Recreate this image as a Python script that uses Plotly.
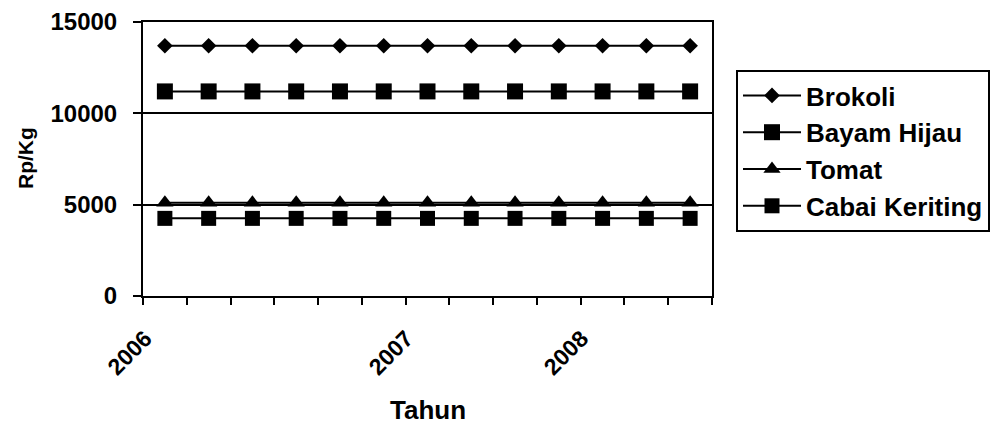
import plotly.graph_objects as go

categories = list(range(13))
tick_positions = [-0.45, 5.52, 9.52]
tick_labels = ["2006", "2007", "2008"]
y_ticks = [0, 5000, 10000, 15000]
y_tick_labels = ["0", "5000", "10000", "15000"]

brokoli = [13700] * 13
bayam_hijau = [11200] * 13
tomat = [5100] * 13
cabai_keriting = [4250] * 13

series = [
    ("Brokoli", brokoli, "diamond", 12),
    ("Bayam Hijau", bayam_hijau, "square", 16),
    ("Tomat", tomat, "triangle-up", 15),
    ("Cabai Keriting", cabai_keriting, "square", 15),
]

FONT = "Liberation Sans, Arial, sans-serif"

# page has an 8px body margin; plot area target: x 143..712, y 22..296
PW, PH = 992, 420
L, R, T, B = 135, 288, 14, 132
plot_w = PW - L - R
plot_h = PH - T - B


def px_x(X):
    return (X - 143) / plot_w


def px_y(Y):
    return (296 - Y) / plot_h


fig = go.Figure()
for name, vals, sym, size in series:
    fig.add_trace(go.Scatter(
        x=categories, y=vals, name=name, mode="lines+markers",
        line=dict(color="black", width=2),
        marker=dict(symbol=sym, size=size, color="black"),
    ))

fig.update_layout(
    width=PW, height=PH,
    margin=dict(l=L, r=R, t=T, b=B, autoexpand=False),
    plot_bgcolor="white", paper_bgcolor="white",
    font=dict(family=FONT, color="black"),
    legend=dict(
        x=px_x(736), y=px_y(70), xanchor="left", yanchor="top",
        bordercolor="black", borderwidth=2,
        font=dict(family=FONT, size=26, weight="bold", color="black"),
        itemwidth=58,
    ),
    showlegend=True,
)

fig.update_xaxes(
    range=[-0.5, 12.5], automargin=False,
    tickmode="array", tickvals=tick_positions, ticktext=tick_labels,
    ticks="", tickangle=-45,
    tickfont=dict(family=FONT, size=23, weight="bold", color="black"),
    ticklabelstandoff=18,
    showline=True, linecolor="black", linewidth=2, mirror=True,
    showgrid=False, zeroline=False,
    minor=dict(tickmode="linear", tick0=-0.5, dtick=1, ticks="outside",
               ticklen=7, tickwidth=2, tickcolor="black", showgrid=False),
)

fig.update_yaxes(
    range=[0, 15000], automargin=False,
    tickmode="array", tickvals=y_ticks, ticktext=y_tick_labels,
    ticks="outside", ticklen=8, tickwidth=2, tickcolor="black",
    tickfont=dict(family=FONT, size=24, weight="bold", color="black"),
    ticklabelstandoff=11,
    showline=True, linecolor="black", linewidth=2, mirror=True,
    showgrid=True, gridcolor="black", gridwidth=2,
    zeroline=False,
)

fig.add_annotation(
    text="Rp/Kg", textangle=-90, xref="paper", yref="paper",
    x=px_x(25), y=px_y(158), xanchor="center", yanchor="middle",
    showarrow=False,
    font=dict(family=FONT, size=21, weight="bold", color="black"),
)
fig.add_annotation(
    text="Tahun", xref="paper", yref="paper",
    x=px_x(428), y=px_y(410), xanchor="center", yanchor="middle",
    showarrow=False,
    font=dict(family=FONT, size=26, weight="bold", color="black"),
)

fig.write_html("out.html")
